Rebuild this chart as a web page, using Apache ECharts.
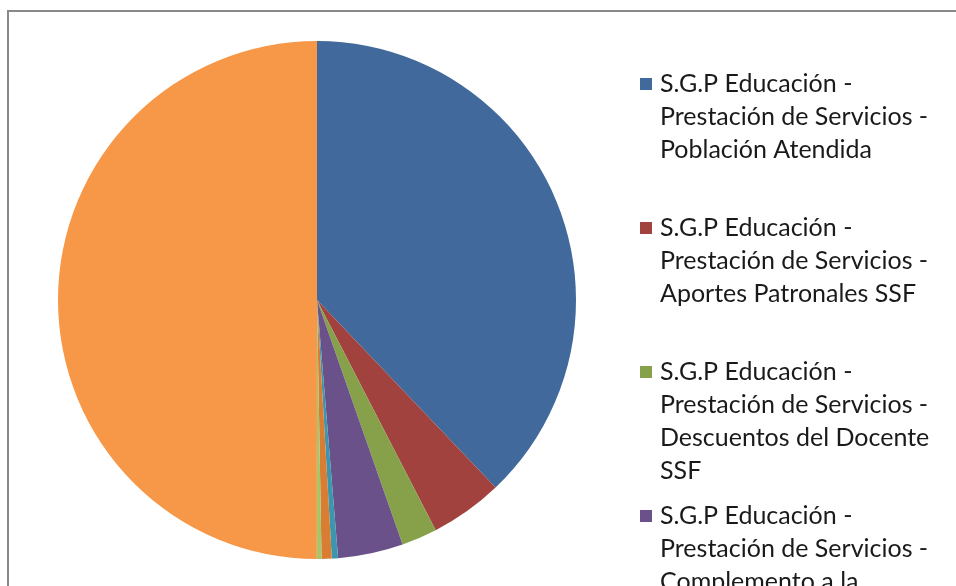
<!DOCTYPE html>
<html lang="es">
  <head>
    <meta charset="UTF-8" />
    <title>S.G.P Educación</title>
    <script src="https://cdn.jsdelivr.net/npm/echarts@6/dist/echarts.min.js"></script>
    <style>
      html, body { margin: 0; padding: 0; background: #fff; }
    </style>
  </head>
  <body>
    <div id="main" style="width: 956px; height: 586px"></div>
    <script type="text/javascript">
      // Slices, clockwise from 12 o'clock (share of total, %)
      const categories = [
        "S.G.P Educación - Prestación de Servicios - Población Atendida",
        "S.G.P Educación - Prestación de Servicios - Aportes Patronales SSF",
        "S.G.P Educación - Prestación de Servicios - Descuentos del Docente SSF",
        "S.G.P Educación - Prestación de Servicios - Complemento a la Plantilla",
        "S.G.P Educación - Calidad - Gratuidad",
        "S.G.P Educación - Calidad - Matrícula",
        "S.G.P Educación - Conectividad",
        "S.G.P Educación - Prestación de Servicios - Nómina Docente"
      ];
      const values = [37.9, 4.53, 2.22, 4.06, 0.39, 0.63, 0.29, 50.0];
      const colors = [
        "#41699b", "#a1423e", "#86a14a", "#6a5189",
        "#3c96ad", "#d97d33", "#a8c56b", "#f79848"
      ];

      const chart = echarts.init(document.getElementById("main"));

      // Excel-style legend: one block per item, fixed spacing, icon beside the first line
      const lineH = 33;
      const firstCenter = 84;
      const step = 144;
      const wrapW = 280;

      // count wrapped lines so the icon box can span the whole text block
      const measure = document.createElement("canvas").getContext("2d");
      measure.font = "25px Lato";
      function lineCount(name) {
        let n = 0;
        name.replace(/ - /g, " -\n").split("\n").forEach((para) => {
          let line = "";
          n++;
          para.split(" ").forEach((w) => {
            const t = line ? line + " " + w : w;
            if (measure.measureText(t).width > wrapW && line) {
              n++;
              line = w;
            } else {
              line = t;
            }
          });
        });
        return n;
      }

      const legends = categories.map((name, i) => {
        const n = lineCount(name);
        const h = n * lineH;
        const sq = 12;
        const y0 = lineH / 2 - sq / 2;
        return {
          orient: "vertical",
          left: 640,
          top: firstCenter + step * i - lineH / 2,
          padding: 0,
          itemWidth: sq,
          itemHeight: h,
          symbolKeepAspect: false,
          selectedMode: false,
          // square at the first line, plus an empty point so the box spans the block
          icon: "path://M0,0M0," + y0 + "h" + sq + "v" + sq + "h-" + sq + "zM" + sq + "," + h,
          data: [name],
          textStyle: {
            fontFamily: "Lato",
            fontSize: 25,
            color: "#1a1a1a",
            lineHeight: lineH,
            width: wrapW,
            overflow: "break",
            padding: [0, 0, 0, 3]
          },
          formatter: (nm) => nm.replace(/ - /g, " -\n")
        };
      });

      const option = {
        animation: false,
        color: colors,
        graphic: [
          {
            type: "rect",
            shape: { x: 8, y: 11, width: 2000, height: 2000 },
            style: { fill: "none", stroke: "#898989", lineWidth: 2 },
            silent: true
          }
        ],
        legend: legends,
        series: [
          {
            type: "pie",
            center: [317, 300],
            radius: 259,
            startAngle: 90,
            clockwise: true,
            label: { show: false },
            labelLine: { show: false },
            emphasis: { disabled: true },
            itemStyle: { borderWidth: 0 },
            data: categories.map((name, i) => ({ name: name, value: values[i] }))
          }
        ]
      };

      chart.setOption(option);
    </script>
  </body>
</html>
